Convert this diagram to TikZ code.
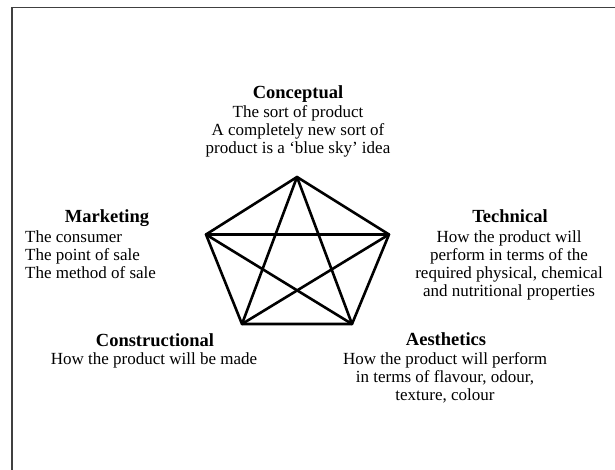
\documentclass[tikz,border=0pt]{standalone}
\usepackage{fontspec}
\setmainfont{Liberation Serif}
\begin{document}
\begin{tikzpicture}[x=1pt,y=-1pt,
  heading/.style={font=\fontsize{18.5}{20}\selectfont\bfseries, inner sep=0pt, anchor=base},
  body/.style={font=\fontsize{17}{18}\selectfont, align=center, inner sep=0pt, anchor=north},
  bodyleft/.style={font=\fontsize{17}{18}\selectfont, align=left, inner sep=0pt, anchor=north west},
  edge/.style={line width=2.6pt, line cap=round, line join=round},
  frame/.style={black!75, line width=1.5pt}]
\useasboundingbox (0,0) rectangle (615,470);

% page frame (top and left edges)
\coordinate (fTR) at (615,7.5);
\coordinate (fTL) at (12,7.5);
\coordinate (fBL) at (12,470);
\draw[frame] (fTR) -- (fTL) -- (fBL);

% the five corners of the design star
\coordinate (cT)  at (297,177);
\coordinate (cL)  at (206,234.5);
\coordinate (cR)  at (389,234.5);
\coordinate (cBL) at (242,324);
\coordinate (cBR) at (352,324);

% outer pentagon
\draw[edge] (cT) -- (cR) -- (cBR) -- (cBL) -- (cL) -- cycle;
% inner star
\draw[edge] (cT) -- (cBL);
\draw[edge] (cT) -- (cBR);
\draw[edge] (cL) -- (cR);
\draw[edge] (cL) -- (cBR);
\draw[edge] (cR) -- (cBL);

% Conceptual
\node[heading] (conT) at (298,99) {Conceptual};
\node[body] (conB) at (298,105.8) {The sort of product\\A completely new sort of\\product is a ‘blue sky’ idea};

% Marketing
\node[heading] (mktT) at (107,223) {Marketing};
\node[bodyleft] (mktB) at (25,230.8) {The consumer\\The point of sale\\The method of sale};

% Technical
\node[heading] (tecT) at (510,223) {Technical};
\node[body] (tecB) at (509,230.8) {How the product will\\perform in terms of the\\required physical, chemical\\and nutritional properties};

% Constructional
\node[heading] (cstT) at (155,346) {Constructional};
\node[body] (cstB) at (154,352.8) {How the product will be made};

% Aesthetics
\node[heading] (aesT) at (446,345.5) {Aesthetics};
\node[body] (aesB) at (445,352.8) {How the product will perform\\in terms of flavour, odour,\\texture, colour};
\end{tikzpicture}
\end{document}
